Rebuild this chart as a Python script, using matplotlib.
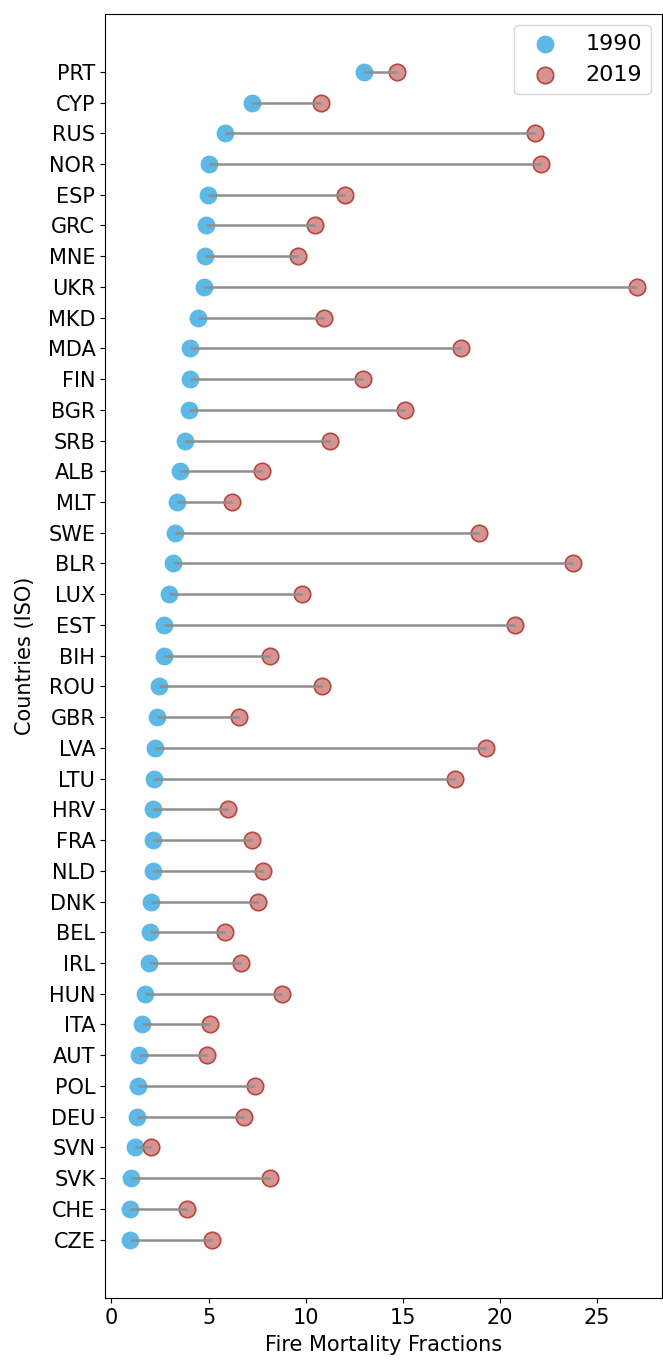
import numpy as np
import matplotlib
matplotlib.use("Agg")
import matplotlib.pyplot as plt

# Countries ordered top to bottom (descending 1990 value)
countries = ["PRT", "CYP", "RUS", "NOR", "ESP", "GRC", "MNE", "UKR", "MKD",
             "MDA", "FIN", "BGR", "SRB", "ALB", "MLT", "SWE", "BLR", "LUX",
             "EST", "BIH", "ROU", "GBR", "LVA", "LTU", "HRV", "FRA", "NLD",
             "DNK", "BEL", "IRL", "HUN", "ITA", "AUT", "POL", "DEU", "SVN",
             "SVK", "CHE", "CZE"]

fmf_1990 = [12.98, 7.22, 5.83, 5.03, 4.96, 4.85, 4.81, 4.74, 4.44,
            4.05, 4.03, 4.01, 3.77, 3.55, 3.38, 3.29, 3.16, 2.94,
            2.71, 2.68, 2.47, 2.36, 2.25, 2.18, 2.16, 2.14, 2.12,
            2.01, 1.99, 1.92, 1.73, 1.56, 1.40, 1.34, 1.32, 1.19,
            0.99, 0.97, 0.97]

fmf_2019 = [14.72, 10.77, 21.83, 22.11, 12.03, 10.49, 9.58, 27.04, 10.92,
            18.00, 12.94, 15.13, 11.27, 7.74, 6.22, 18.90, 23.76, 9.80,
            20.77, 8.17, 10.84, 6.59, 19.29, 17.67, 6.00, 7.22, 7.82,
            7.54, 5.85, 6.67, 8.78, 5.05, 4.94, 7.37, 6.83, 2.06,
            8.17, 3.88, 5.16]

plt.rcParams["font.family"] = ["DejaVu Sans"]

fig = plt.figure(figsize=(6.63, 13.6), dpi=100)
ax = fig.add_axes([105 / 663, 1 - 1298 / 1360, 557 / 663, (1298 - 14) / 1360])

y = np.arange(len(countries))[::-1]

ax.scatter(fmf_1990, y, s=140, color="#5cb8e6", zorder=2, label="1990")
ax.scatter(fmf_2019, y, s=140, color="#d69391", edgecolor="#b5463f",
           linewidth=1.2, zorder=2, label="2019")
ax.hlines(y, fmf_1990, fmf_2019, color="#8e8e8e", linewidth=1.8, zorder=3)

ax.set_yticks(y)
ax.set_yticklabels(countries)
ax.set_ylim(-1.9, 39.88)
ax.set_xticks([0, 5, 10, 15, 20, 25])
ax.tick_params(labelsize=15)

ax.set_xlabel("Fire Mortality Fractions", fontsize=15, labelpad=5)
ax.set_ylabel("Countries (ISO)", fontsize=15, labelpad=9)

ax.legend(loc="upper right", fontsize=16, markerscale=1.0)

fig.savefig("out.png", dpi=100)
